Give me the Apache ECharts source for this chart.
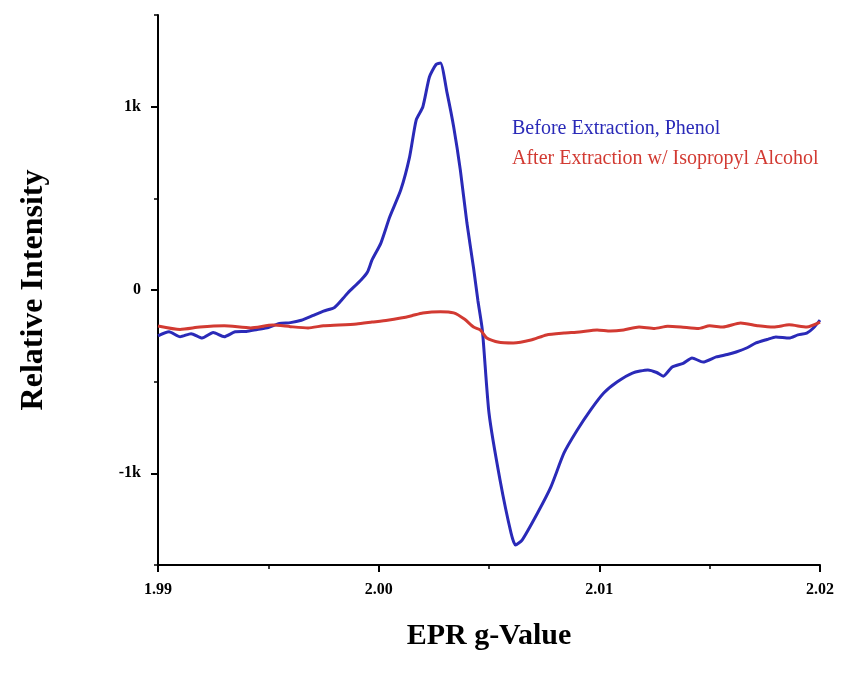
<!DOCTYPE html>
<html>
<head>
<meta charset="utf-8">
<script src="https://cdn.jsdelivr.net/npm/echarts@6/dist/echarts.min.js"></script>
<style>html,body{margin:0;padding:0;background:#fff}#c{width:855px;height:682px}</style>
</head>
<body>
<div id="c"></div>
<script>
// g-values and intensities
const seriesNames = ['Before Extraction, Phenol', 'After Extraction w/ Isopropyl Alcohol'];
const beforeG = [1.9900,1.9905,1.9910,1.9915,1.9920,1.9925,1.9930,1.9935,1.9940,1.9945,1.9950,1.9955,1.9960,1.9965,1.9970,1.9975,1.9980,1.9984,1.9986,1.9992,1.9995,1.9997,2.0001,2.0005,2.0010,2.0014,2.0017,2.0020,2.0023,2.0026,2.0028,2.0031,2.0034,2.0037,2.0040,2.0043,2.0045,2.0047,2.0050,2.0055,2.0060,2.0062,2.0065,2.0072,2.0078,2.0084,2.0090,2.0096,2.0102,2.0108,2.0115,2.0122,2.0126,2.0129,2.0133,2.0138,2.0142,2.0147,2.0153,2.0158,2.0162,2.0167,2.0171,2.0176,2.0180,2.0186,2.0190,2.0194,2.0197,2.0200];
const beforeI = [-250,-228,-255,-238,-262,-232,-255,-228,-226,-215,-205,-182,-178,-165,-140,-115,-95,-44,-16,55,100,164,256,398,545,725,927,998,1162,1230,1238,1075,889,655,365,120,-60,-220,-671,-1036,-1326,-1391,-1364,-1216,-1075,-889,-764,-655,-562,-502,-453,-436,-450,-470,-420,-400,-371,-393,-365,-352,-338,-315,-289,-270,-256,-262,-245,-235,-207,-164];
const afterG = [1.9900,1.9910,1.9919,1.9930,1.9942,1.9952,1.9960,1.9968,1.9975,1.9982,1.9990,1.9997,2.0004,2.0010,2.0015,2.0020,2.0028,2.0034,2.0039,2.0043,2.0046,2.0049,2.0054,2.0061,2.0069,2.0076,2.0084,2.0091,2.0099,2.0105,2.0111,2.0118,2.0125,2.0131,2.0137,2.0145,2.0150,2.0156,2.0164,2.0172,2.0179,2.0186,2.0194,2.0200];
const afterI = [-196,-215,-202,-195,-207,-191,-200,-207,-195,-191,-185,-175,-165,-153,-140,-125,-118,-125,-160,-202,-218,-262,-284,-289,-273,-245,-235,-229,-218,-224,-218,-202,-210,-198,-202,-210,-195,-202,-180,-195,-202,-190,-202,-175];
const xTicks = [1.99, 2.00, 2.01, 2.02];
const yLabelValues = [-1000, 0, 1000];
const yMinorValues = [-1500, -500, 500, 1500];

const pair = (g, v) => g.map((x, i) => [x, v[i]]);
const serif = '"Liberation Serif","DejaVu Serif",serif';
const chart = echarts.init(document.getElementById('c'));
chart.setOption({
  animation: false,
  backgroundColor: '#fff',
  grid: {left: 158, right: 35, top: 15, bottom: 117},
  legend: {
    orient: 'vertical', left: 501, top: 114, itemGap: 10,
    itemWidth: 0, itemHeight: 0,
    data: [
      {name: seriesNames[0], textStyle: {color: '#2a2ab8'}},
      {name: seriesNames[1], textStyle: {color: '#d23a32'}}
    ],
    textStyle: {fontFamily: serif, fontSize: 20}
  },
  xAxis: [{
    type: 'value', min: 1.99, max: 2.02, interval: 0.01,
    name: 'EPR g-Value', nameLocation: 'middle', nameGap: 56,
    nameTextStyle: {fontFamily: serif, fontSize: 30, fontWeight: 'bold', color: '#000'},
    axisLine: {show: true, onZero: false, lineStyle: {color: '#000', width: 2}},
    axisTick: {show: true, length: 7, lineStyle: {color: '#000', width: 2}},
    minorTick: {show: true, splitNumber: 2, length: 4, lineStyle: {color: '#000', width: 1.5}},
    axisLabel: {fontFamily: serif, fontSize: 16, fontWeight: 'bold', color: '#000', margin: 17,
      formatter: v => v.toFixed(2)},
    splitLine: {show: false}
  }],
  yAxis: [{
    type: 'value', min: -1500, max: 1500,
    name: 'Relative Intensity', nameLocation: 'middle', nameGap: 108,
    nameTextStyle: {fontFamily: serif, fontSize: 32, fontWeight: 'bold', color: '#000'},
    axisLine: {show: true, onZero: false, lineStyle: {color: '#000', width: 2}},
    axisTick: {show: true, length: 7, customValues: yLabelValues, lineStyle: {color: '#000', width: 2}},
    axisLabel: {fontFamily: serif, fontSize: 16, fontWeight: 'bold', color: '#000', margin: 17,
      customValues: yLabelValues,
      formatter: v => v === 0 ? '0' : (v / 1000) + 'k'},
    splitLine: {show: false}
  }, {
    type: 'value', min: -1500, max: 1500, position: 'left',
    axisLine: {show: false, onZero: false},
    axisTick: {show: true, length: 4, customValues: yMinorValues, lineStyle: {color: '#000', width: 1.5}},
    axisLabel: {show: false},
    splitLine: {show: false}
  }],
  series: [{
    name: seriesNames[0], type: 'line', data: pair(beforeG, beforeI),
    showSymbol: false, symbol: 'none', smooth: 0.2,
    lineStyle: {color: '#2a2ab8', width: 3}, itemStyle: {color: '#2a2ab8'}, z: 3
  }, {
    name: seriesNames[1], type: 'line', data: pair(afterG, afterI),
    showSymbol: false, symbol: 'none', smooth: 0.2,
    lineStyle: {color: '#d23a32', width: 3}, itemStyle: {color: '#d23a32'}, z: 4
  }]
});
</script>
</body>
</html>
